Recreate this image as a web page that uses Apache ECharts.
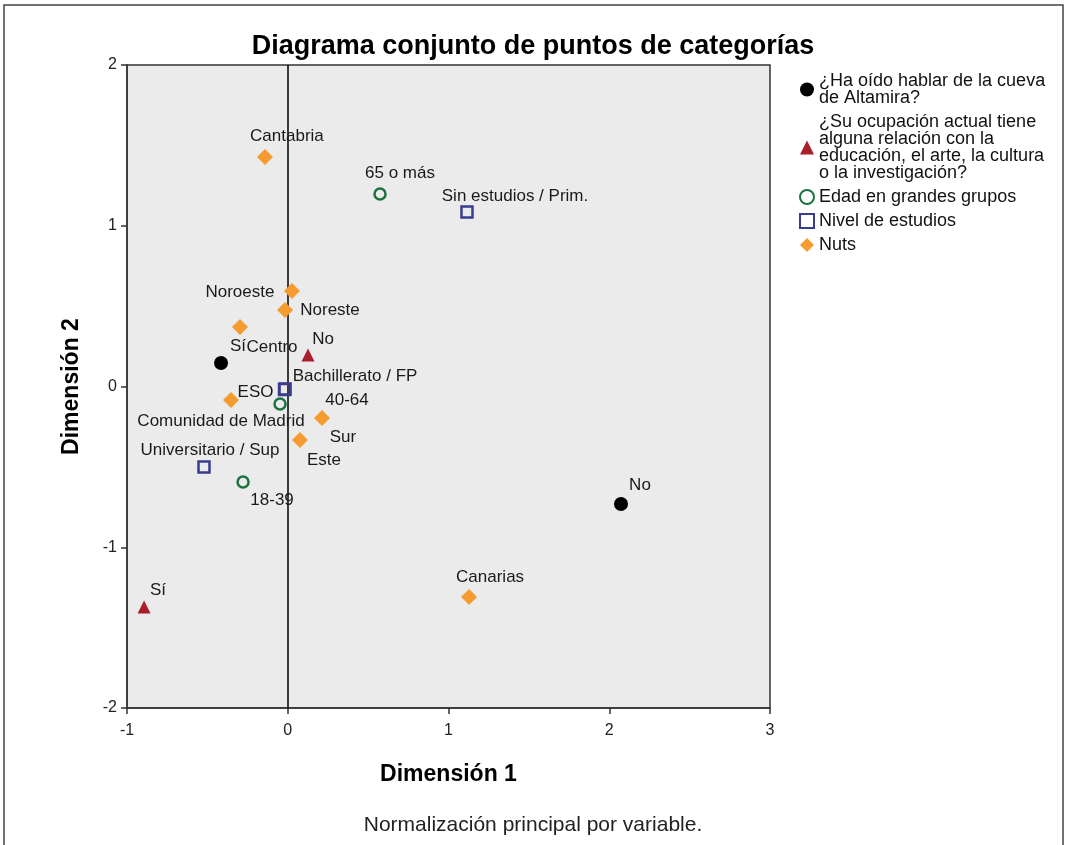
<!DOCTYPE html>
<html>
<head>
<meta charset="utf-8">
<script src="https://cdn.jsdelivr.net/npm/echarts@6/dist/echarts.min.js"></script>
<style>
  html, body { margin: 0; padding: 0; background: #fff; }
  #main { width: 1066px; height: 845px; }
</style>
</head>
<body>
<div id="main"></div>
<script>
// variables (legend entries)
var groupNames = [
  '¿Ha oído hablar de la cueva\nde Altamira?',
  '¿Su ocupación actual tiene\nalguna relación con la\neducación, el arte, la cultura\no la investigación?',
  'Edad en grandes grupos',
  'Nivel de estudios',
  'Nuts'
];

// category points, dimension 1 / dimension 2
var altamiraCats = ['Sí', 'No'];
var altamiraX = [-0.415, 2.073];
var altamiraY = [0.146, -0.731];

var ocupCats = ['No', 'Sí'];
var ocupX = [0.126, -0.894];
var ocupY = [0.196, -1.372];

var edadCats = ['65 o más', '40-64', '18-39'];
var edadX = [0.574, -0.048, -0.278];
var edadY = [1.198, -0.109, -0.594];

var estudiosCats = ['Sin estudios / Prim.', 'ESO', 'Bachillerato / FP', 'Universitario / Sup'];
var estudiosX = [1.115, -0.02, -0.017, -0.521];
var estudiosY = [1.085, -0.018, -0.016, -0.501];

var nutsCats = ['Cantabria', 'Noroeste', 'Noreste', 'Centro', 'Comunidad de Madrid', 'Sur', 'Este', 'Canarias'];
var nutsX = [-0.142, 0.026, -0.017, -0.297, -0.353, 0.213, 0.076, 1.128];
var nutsY = [1.428, 0.594, 0.476, 0.370, -0.084, -0.196, -0.333, -1.310];

var xTicks = [-1, 0, 1, 2, 3];
var yTicks = [-2, -1, 0, 1, 2];

// where each label sits relative to its marker (px)
var labelOffsets = [
  [[17, -17], [19, -19]],
  [[15, -16], [14, -17]],
  [[20, -21], [67, -4], [29, 18]],
  [[48, -16], [-29, 3], [70, -13], [6, -17]],
  [[22, -21], [-52, 1], [45, 0], [32, 20], [-10, 21], [21, 19], [24, 20], [21, -20]]
];

var styles = [
  { symbol: 'circle', size: 14, color: '#000000' },
  { symbol: 'triangle', size: 13, color: '#A81E2B' },
  { symbol: 'circle', size: 11, color: 'rgba(0,0,0,0)', border: '#1C7340', bw: 2.5 },
  { symbol: 'rect', size: 11, color: 'rgba(0,0,0,0)', border: '#3A3C8E', bw: 2.5 },
  { symbol: 'diamond', size: 16, color: '#F59B30' }
];

var cats = [altamiraCats, ocupCats, edadCats, estudiosCats, nutsCats];
var xs = [altamiraX, ocupX, edadX, estudiosX, nutsX];
var ys = [altamiraY, ocupY, edadY, estudiosY, nutsY];

var FONT = 'Liberation Sans, Arial, sans-serif';

var myChart = echarts.init(document.getElementById('main'));

var series = groupNames.map(function (g, i) {
  var st = styles[i];
  var data = cats[i].map(function (c, j) {
    return {
      name: c,
      value: [xs[i][j], ys[i][j]],
      label: { offset: labelOffsets[i][j] }
    };
  });
  var s = {
    name: g,
    type: 'scatter',
    symbol: st.symbol,
    symbolSize: st.size,
    itemStyle: {
      color: st.color,
      borderColor: st.border || st.color,
      borderWidth: st.bw || 0,
      opacity: 1
    },
    label: {
      show: true,
      position: 'inside',
      formatter: '{b}',
      color: '#1a1a1a',
      fontSize: 17,
      fontFamily: FONT
    },
    emphasis: { disabled: true },
    data: data,
    z: 3
  };
  if (i === 0) {
    s.markLine = {
      silent: true,
      symbol: 'none',
      label: { show: false },
      lineStyle: { color: '#000', width: 1.5, type: 'solid' },
      data: [{ xAxis: 0 }],
      z: 1
    };
  }
  return s;
});

var option = {
  backgroundColor: '#ffffff',
  animation: false,
  textStyle: { fontFamily: FONT },
  title: {
    text: 'Diagrama conjunto de puntos de categorías',
    left: 'center',
    top: 28,
    textStyle: { fontSize: 27, fontWeight: 'bold', color: '#000', fontFamily: FONT }
  },
  legend: {
    orient: 'vertical',
    left: 799,
    top: 72,
    padding: 0,
    itemWidth: 14,
    itemHeight: 14,
    itemGap: 6,
    textStyle: { fontSize: 18, lineHeight: 17, color: '#111', fontFamily: FONT },
    data: groupNames
  },
  grid: {
    left: 127,
    right: 296,
    top: 65,
    bottom: 137,
    show: true,
    backgroundColor: '#EBEBEB',
    borderColor: '#333',
    borderWidth: 1.5
  },
  xAxis: {
    type: 'value',
    min: xTicks[0],
    max: xTicks[xTicks.length - 1],
    interval: 1,
    name: 'Dimensión 1',
    nameLocation: 'middle',
    nameGap: 55,
    nameTextStyle: { fontSize: 23, fontWeight: 'bold', color: '#000', fontFamily: FONT },
    axisLine: { show: true, onZero: false, lineStyle: { color: '#333', width: 1.5 } },
    axisTick: { show: true, length: 6, lineStyle: { color: '#333', width: 1.5 } },
    axisLabel: { fontSize: 16, color: '#222', margin: 15, fontFamily: FONT },
    splitLine: { show: false }
  },
  yAxis: {
    type: 'value',
    min: yTicks[0],
    max: yTicks[yTicks.length - 1],
    interval: 1,
    name: 'Dimensión 2',
    nameLocation: 'middle',
    nameRotate: 90,
    nameGap: 44,
    nameTextStyle: { fontSize: 23, fontWeight: 'bold', color: '#000', fontFamily: FONT },
    axisLine: { show: true, onZero: false, lineStyle: { color: '#333', width: 1.5 } },
    axisTick: { show: true, length: 6, lineStyle: { color: '#333', width: 1.5 } },
    axisLabel: { fontSize: 16, color: '#222', margin: 10, fontFamily: FONT },
    splitLine: { show: false }
  },
  graphic: [
    {
      type: 'rect',
      shape: { x: 4, y: 5, width: 1059, height: 860 },
      style: { fill: 'none', stroke: '#444', lineWidth: 1.5 },
      silent: true,
      z: -10
    },
    {
      type: 'text',
      left: 'center',
      top: 815,
      style: {
        text: 'Normalización principal por variable.',
        fontSize: 21,
        fill: '#222',
        fontFamily: FONT
      }
    }
  ],
  series: series
};

myChart.setOption(option);
</script>
</body>
</html>
